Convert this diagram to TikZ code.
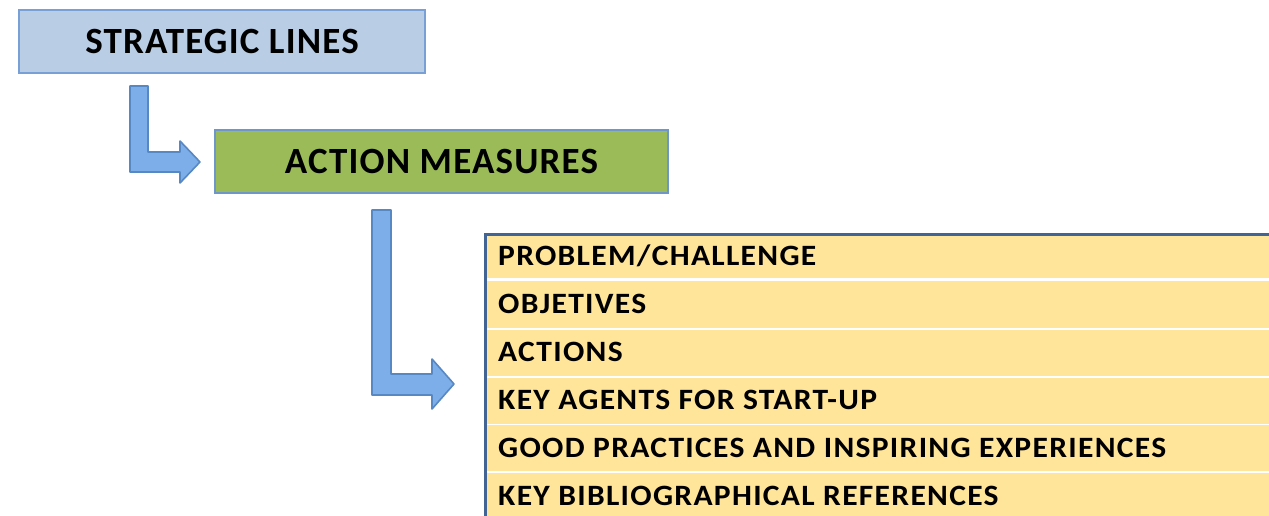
\documentclass[tikz,border=0pt]{standalone}
\usepackage{fontspec}
\setmainfont{Carlito}
\newfontfamily\headfont[LetterSpace=3.2]{Carlito}
\newfontfamily\rowfont[LetterSpace=4.4,FakeStretch=1.07]{Carlito}
\definecolor{slfill}{RGB}{185,205,229}
\definecolor{slborder}{RGB}{120,160,215}
\definecolor{amfill}{RGB}{155,187,89}
\definecolor{amborder}{RGB}{110,150,200}
\definecolor{arrfill}{RGB}{125,174,234}
\definecolor{arrborder}{RGB}{88,136,196}
\definecolor{tabfill}{RGB}{255,229,153}
\definecolor{tabborder}{RGB}{65,100,148}
\tikzset{
  headbox/.style={draw=#1, line width=1.3pt, inner sep=0pt, font=\headfont\bfseries\fontsize{37}{40}\selectfont, text=black},
  blockarrow/.style={draw=arrborder, line width=1.6pt, fill=arrfill, line join=round},
  rowtext/.style={anchor=base west, inner sep=0pt, font=\rowfont\bfseries\fontsize{29.5}{32}\selectfont, text=black},
  rowsep/.style={draw=white, line width=#1}
}
\begin{document}
\begin{tikzpicture}[x=1pt,y=-1pt]
\useasboundingbox (0,0) rectangle (1269,516);
% heading boxes
\node[headbox=slborder, fill=slfill, minimum width=406pt, minimum height=63pt] (sl) at (222,41.5) {STRATEGIC LINES};
\node[headbox=amborder, fill=amfill, minimum width=453pt, minimum height=63pt] (am) at (441.5,161.5) {ACTION MEASURES};
% table
\begin{scope}
\clip (0,0) rectangle (1269,516);
\fill[tabfill] (486,234) rectangle (1275,525);
\draw[rowsep=3pt] (487,279.5) -- (1275,279.5);
\foreach \yy in {329,377,424.5,472}{
  \draw[rowsep=1.6pt] (487,\yy) -- (1275,\yy);
}
\draw[tabborder, line width=3pt] (485,525) -- (485,234) -- (1275,234);
\end{scope}
\node[rowtext] (r1) at (498,265) {PROBLEM/CHALLENGE};
\node[rowtext] (r2) at (498,313) {OBJETIVES};
\node[rowtext] (r3) at (498,361) {ACTIONS};
\node[rowtext] (r4) at (498,409) {KEY AGENTS FOR START-UP};
\node[rowtext] (r5) at (498,457) {GOOD PRACTICES AND INSPIRING EXPERIENCES};
\node[rowtext] (r6) at (498,505) {KEY BIBLIOGRAPHICAL REFERENCES};
% elbow block arrows
\coordinate (a1) at (130,86);
\coordinate (a1tip) at (200,162);
\draw[blockarrow] (a1) -- (148,86) -- (148,152) -- (180,152) -- (180,141) -- (a1tip) -- (180,183) -- (180,172) -- (130,172) -- cycle;
\coordinate (a2) at (372,210);
\coordinate (a2tip) at (454,384);
\draw[blockarrow] (a2) -- (391,210) -- (391,374) -- (432,374) -- (432,359) -- (a2tip) -- (432,409) -- (432,395) -- (372,395) -- cycle;
\end{tikzpicture}
\end{document}
